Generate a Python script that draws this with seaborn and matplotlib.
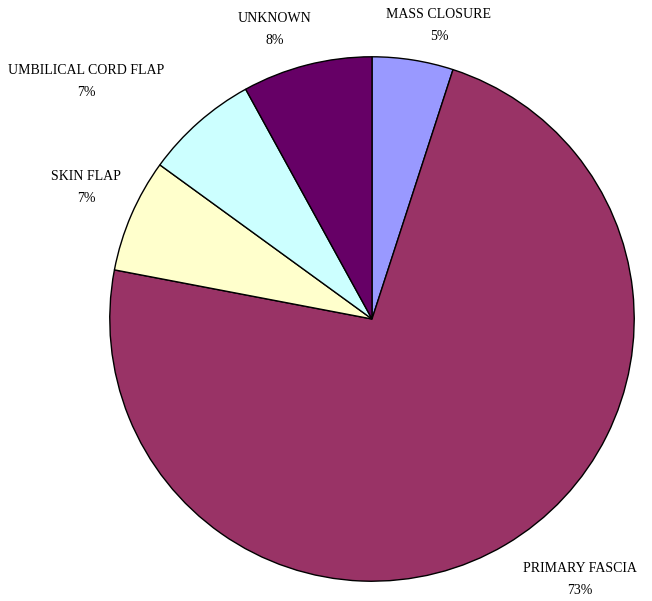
import matplotlib
matplotlib.use("Agg")
import matplotlib.pyplot as plt
import seaborn as sns

categories = ["MASS CLOSURE", "PRIMARY FASCIA", "SKIN FLAP", "UMBILICAL CORD FLAP", "UNKNOWN"]
shares = [5, 73, 7, 7, 8]
colors = ["#9999FF", "#993366", "#FFFFCC", "#CCFFFF", "#660066"]

# label anchor points (pixel positions of the two-line labels on the canvas)
label_px = [(439, 25), (580, 579), (86, 188), (86, 82), (275, 30)]

sns.set_theme(style="white")
plt.rcParams["font.family"] = ["Liberation Serif", "DejaVu Serif"]

W, H = 652, 601
fig = plt.figure(figsize=(W / 100, H / 100), dpi=100)
cx, cy, r = 372, 319, 263
ax = fig.add_axes([(cx - r) / W, (H - cy - r) / H, 2 * r / W, 2 * r / H])
ax.pie(shares, colors=colors, startangle=90, counterclock=False,
       radius=1.0, wedgeprops=dict(edgecolor="black", linewidth=1.0))
ax.set_xlim(-1.003, 1.003)
ax.set_ylim(-1.003, 1.003)
ax.set_aspect("equal")
ax.axis("off")

for name, val, (px, py) in zip(categories, shares, label_px):
    fig.text(px / W, 1 - py / H, f"{name}\n{val}%", ha="center", va="center",
             fontsize=10, color="black", linespacing=1.9)

fig.savefig("out.png", dpi=100, facecolor="white")
